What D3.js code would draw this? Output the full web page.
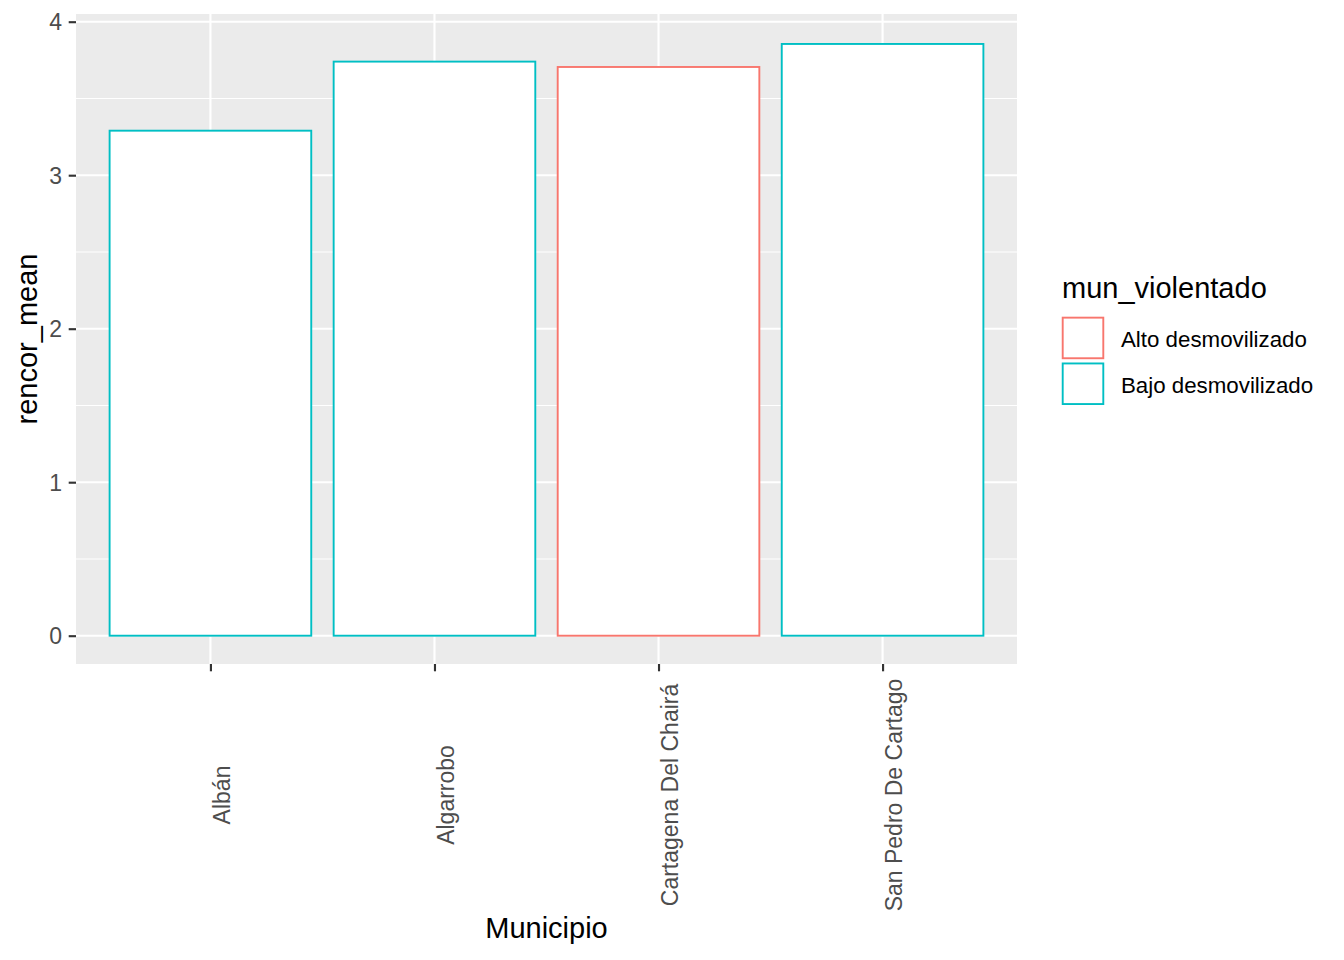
<!DOCTYPE html>
<html>
<head>
<meta charset="utf-8">
<script src="https://cdn.jsdelivr.net/npm/d3@7"></script>
<style>
  html, body { margin: 0; padding: 0; background: #fff; }
  svg { display: block; }
  text { font-family: "Liberation Sans", Arial, sans-serif; }
</style>
</head>
<body>
<svg id="chart" width="1344" height="960"></svg>
<script>
// ---- data ----
const categories = ["Albán", "Algarrobo", "Cartagena Del Chairá", "San Pedro De Cartago"];
const rencorMean = [3.29, 3.74, 3.705, 3.855];
const groups = ["Bajo desmovilizado", "Bajo desmovilizado", "Alto desmovilizado", "Bajo desmovilizado"];
const legendLevels = ["Alto desmovilizado", "Bajo desmovilizado"];
const legendColors = ["#F8766D", "#00BFC4"];
const yTicks = [0, 1, 2, 3, 4];
const yMinor = [0.5, 1.5, 2.5, 3.5];

const data = categories.map((c, i) => ({ cat: c, val: rencorMean[i], grp: groups[i] }));

// ---- layout ----
const panel = { left: 76, right: 1017, top: 14, bottom: 664 };
const svg = d3.select("#chart");

const n = categories.length;
const step = (panel.right - panel.left) / (n - 1 + 1.2);
const x = d3.scalePoint().domain(categories)
  .range([panel.left + 0.6 * step, panel.right - 0.6 * step]);
const barW = 0.9 * step;

const y = d3.scaleLinear().domain([0, 4]).range([635.7, 21.7]);

const color = d3.scaleOrdinal().domain(legendLevels).range(legendColors);

// panel background
svg.append("rect")
  .attr("x", panel.left).attr("y", panel.top)
  .attr("width", panel.right - panel.left).attr("height", panel.bottom - panel.top)
  .attr("fill", "#EBEBEB");

// minor grid
svg.append("g").selectAll("line").data(yMinor).join("line")
  .attr("x1", panel.left).attr("x2", panel.right)
  .attr("y1", d => y(d)).attr("y2", d => y(d))
  .attr("stroke", "#fff").attr("stroke-width", 1.07);

// major grid
svg.append("g").selectAll("line").data(yTicks).join("line")
  .attr("x1", panel.left).attr("x2", panel.right)
  .attr("y1", d => y(d)).attr("y2", d => y(d))
  .attr("stroke", "#fff").attr("stroke-width", 2.13);
svg.append("g").selectAll("line").data(categories).join("line")
  .attr("x1", d => x(d)).attr("x2", d => x(d))
  .attr("y1", panel.top).attr("y2", panel.bottom)
  .attr("stroke", "#fff").attr("stroke-width", 2.13);

// bars
svg.append("g").selectAll("rect").data(data).join("rect")
  .attr("x", d => x(d.cat) - barW / 2)
  .attr("y", d => y(d.val))
  .attr("width", barW)
  .attr("height", d => y(0) - y(d.val))
  .attr("fill", "#fff")
  .attr("stroke", d => color(d.grp))
  .attr("stroke-width", 1.9);

// y axis
const yAxis = d3.axisLeft(y).tickValues(yTicks).tickSize(7.3).tickPadding(5).tickFormat(d3.format("d"));
const gy = svg.append("g").attr("transform", `translate(${panel.left},0)`).call(yAxis);
gy.select(".domain").remove();
gy.selectAll(".tick line").attr("stroke", "#333333").attr("stroke-width", 2.13);
gy.selectAll(".tick text").attr("fill", "#4D4D4D")
  .style("font-size", "23px").style("font-family", "Liberation Sans, Arial, sans-serif")
  .attr("x", -14).attr("dy", "0.36em");

// x axis
const xAxis = d3.axisBottom(x).tickSize(7.3).tickSizeOuter(0);
const gx = svg.append("g").attr("transform", `translate(0,${panel.bottom})`).call(xAxis);
gx.select(".domain").remove();
gx.selectAll(".tick line").attr("stroke", "#333333").attr("stroke-width", 2.13);
gx.selectAll(".tick text")
  .attr("fill", "#4D4D4D")
  .style("font-size", "23px").style("font-family", "Liberation Sans, Arial, sans-serif")
  .attr("text-anchor", "middle")
  .attr("x", 0).attr("y", 0).attr("dy", null)
  .attr("transform", "translate(19,131) rotate(-90)");

// axis titles
svg.append("text")
  .attr("x", (panel.left + panel.right) / 2).attr("y", 938)
  .attr("text-anchor", "middle").attr("fill", "#000")
  .style("font-size", "29px").text("Municipio");

svg.append("text")
  .attr("transform", `translate(37,${(panel.top + panel.bottom) / 2}) rotate(-90)`)
  .attr("text-anchor", "middle").attr("fill", "#000")
  .style("font-size", "29px").text("rencor_mean");

// legend
const lg = svg.append("g");
lg.append("text").attr("x", 1062).attr("y", 298).attr("fill", "#000")
  .style("font-size", "29px").text("mun_violentado");
const keySize = 42.5, keyTop = 316.7, keyGap = 45.8;
legendLevels.forEach((lvl, i) => {
  lg.append("rect")
    .attr("x", 1062.7).attr("y", keyTop + i * keyGap + 0.95)
    .attr("width", keySize - 1.9).attr("height", keySize - 1.9)
    .attr("fill", "#fff").attr("stroke", color(lvl)).attr("stroke-width", 1.9);
  lg.append("text")
    .attr("x", 1121).attr("y", 347.3 + i * keyGap)
    .attr("fill", "#000").style("font-size", "22.3px").text(lvl);
});
</script>
</body>
</html>
